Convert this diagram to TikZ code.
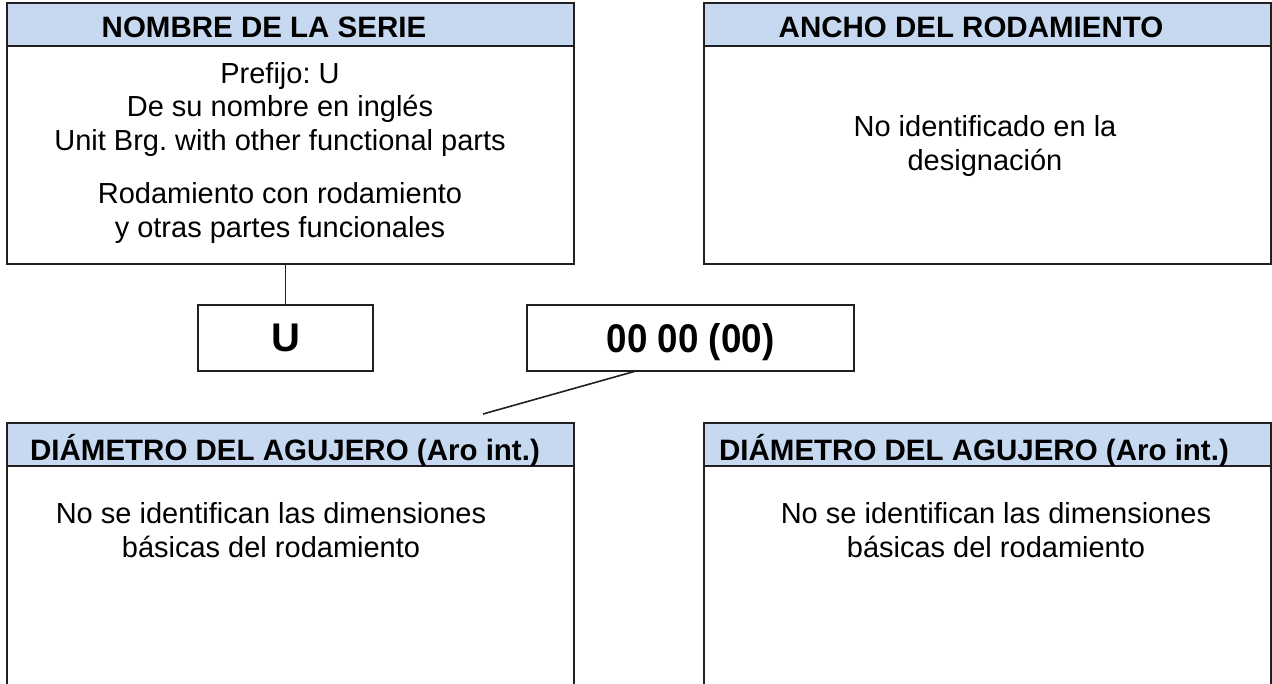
\documentclass[tikz,border=0pt]{standalone}
\usepackage{fontspec}
\setmainfont{Liberation Sans}
\usepackage{tikz}
\usetikzlibrary{positioning}
\frenchspacing
\definecolor{headBlue}{RGB}{198,217,240}
\definecolor{lineGray}{RGB}{35,31,32}
\tikzset{
  panelhead/.style={draw=lineGray, line width=1.8pt, fill=headBlue, minimum width=567pt, minimum height=43pt, inner sep=0, outer sep=0, anchor=north west},
  panelbody/.style={draw=lineGray, line width=1.8pt, fill=white, minimum width=567pt, inner sep=0, outer sep=0},
  headtext/.style={font=\bfseries\fontsize{29.5}{34}\selectfont, inner sep=0, anchor=base},
  bodytext/.style={font=\fontsize{29}{33.5}\selectfont, align=center, inner sep=0, anchor=base},
  codebox/.style={draw=lineGray, line width=1.8pt, minimum height=66pt, inner sep=0, outer sep=0, text depth=0pt, font=\bfseries\fontsize{40}{40}\selectfont},
  link/.style={draw=lineGray, line width=1.6pt}
}

\begin{document}
\begin{tikzpicture}[x=1pt, y=-1pt]
  \clip (0,0) rectangle (1272,683);
  % paneles de arriba
  \node[panelhead] (serie-head) at (7,3) {};
  \node[panelbody, minimum height=218pt, below=0pt of serie-head] (serie-body) {};
  \node[panelhead] (ancho-head) at (704,3) {};
  \node[panelbody, minimum height=218pt, below=0pt of ancho-head] (ancho-body) {};
  % paneles de abajo
  \node[panelhead] (agujL-head) at (7,423) {};
  \node[panelbody, minimum height=290pt, below=0pt of agujL-head] (agujL-body) {};
  \node[panelhead] (agujR-head) at (704,423) {};
  \node[panelbody, minimum height=290pt, below=0pt of agujR-head] (agujR-body) {};

  \node[headtext] (serie-title) at (264,37) {NOMBRE DE LA SERIE};
  \node[headtext] (ancho-title) at (971,37) {ANCHO DEL RODAMIENTO};
  \node[headtext] (agujL-title) at (285,460) {DIÁMETRO DEL AGUJERO (Aro int.)};
  \node[headtext] (agujR-title) at (974,460) {DIÁMETRO DEL AGUJERO (Aro int.)};

  % anchor base = ultima linea
  \node[bodytext] (serie-text) at (280,237) {Prefijo: U\\De su nombre en inglés\\Unit Brg. with other functional parts\\[20pt]Rodamiento con rodamiento\\y otras partes funcionales};
  \node[bodytext] (ancho-text) at (985,170) {No identificado en la\\designación};
  \node[bodytext] (agujL-text) at (271,557) {No se identifican las dimensiones\\básicas del rodamiento};
  \node[bodytext] (agujR-text) at (996,557) {No se identifican las dimensiones\\básicas del rodamiento};

  % designacion
  \node[codebox, minimum width=175pt] (prefix) at (285.5,338) {U};
  \node[codebox, minimum width=327pt] (code) at (690.5,338) {\scalebox{0.92}[1]{00 00 (00)}};

  \draw[link] (prefix.north) -- (prefix.north |- serie-body.south);
  \coordinate (bore-tip) at (483,414);
  \draw[link] ([xshift=109pt]code.south west) -- (bore-tip);
\end{tikzpicture}
\end{document}
